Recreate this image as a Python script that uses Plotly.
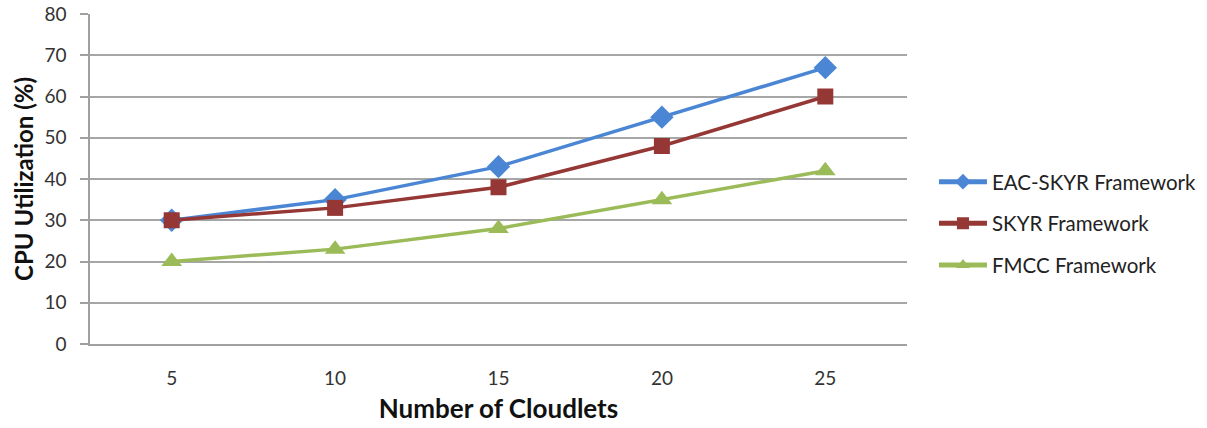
import plotly.graph_objects as go

cloudlets = ["5", "10", "15", "20", "25"]
eac_skyr = [30, 35, 43, 55, 67]
skyr = [30, 33, 38, 48, 60]
fmcc = [20, 23, 28, 35, 42]

series = [
    ("EAC-SKYR Framework", eac_skyr, "#4A86D4", "diamond", 18),
    ("SKYR Framework", skyr, "#953735", "square", 16),
    ("FMCC Framework", fmcc, "#9BBB59", "triangle-up", 18),
]

font_family = "Lato, 'Open Sans', sans-serif"

fig = go.Figure()
for i, (name, vals, color, symbol, size) in enumerate(series):
    fig.add_trace(go.Scatter(
        x=cloudlets, y=vals, name=name, mode="lines+markers",
        line=dict(color=color, width=3.5),
        marker=dict(symbol=symbol, size=size, color=color),
        legendgroup=f"g{i}",
    ))

fig.update_layout(
    width=1207, height=428,
    margin=dict(l=90, r=300, t=14, b=84, autoexpand=False),
    paper_bgcolor="white", plot_bgcolor="white",
    font=dict(family=font_family, size=19, color="#333333"),
    showlegend=True,
    legend=dict(
        x=1.033, y=0.552, xanchor="left", yanchor="top",
        font=dict(size=20.5, color="#222222"),
        tracegroupgap=12, traceorder="grouped",
        itemwidth=48, itemsizing="constant",
    ),
    xaxis=dict(
        type="category", range=[-0.5, 4.5], automargin=False,
        showgrid=False, showline=True, linecolor="#A0A0A0", linewidth=1.5,
        ticks="", tickfont=dict(size=19), ticklabelstandoff=16,
        title=dict(text="<b>Number of Cloudlets</b>", font=dict(size=26, color="#111111"), standoff=12),
    ),
    yaxis=dict(
        range=[0, 80], dtick=10, automargin=False,
        showgrid=True, gridcolor="#A6A6A6", gridwidth=1.5,
        showline=True, linecolor="#A0A0A0", linewidth=1.5,
        ticks="outside", ticklen=8, tickcolor="#A0A0A0", tickwidth=1.5,
        tickfont=dict(size=19), zeroline=False, ticklabelstandoff=10,
        title=dict(text="<b>CPU Utilization (%)</b>", font=dict(size=24, color="#111111"), standoff=4),
    ),
)

fig.write_html("out.html")
